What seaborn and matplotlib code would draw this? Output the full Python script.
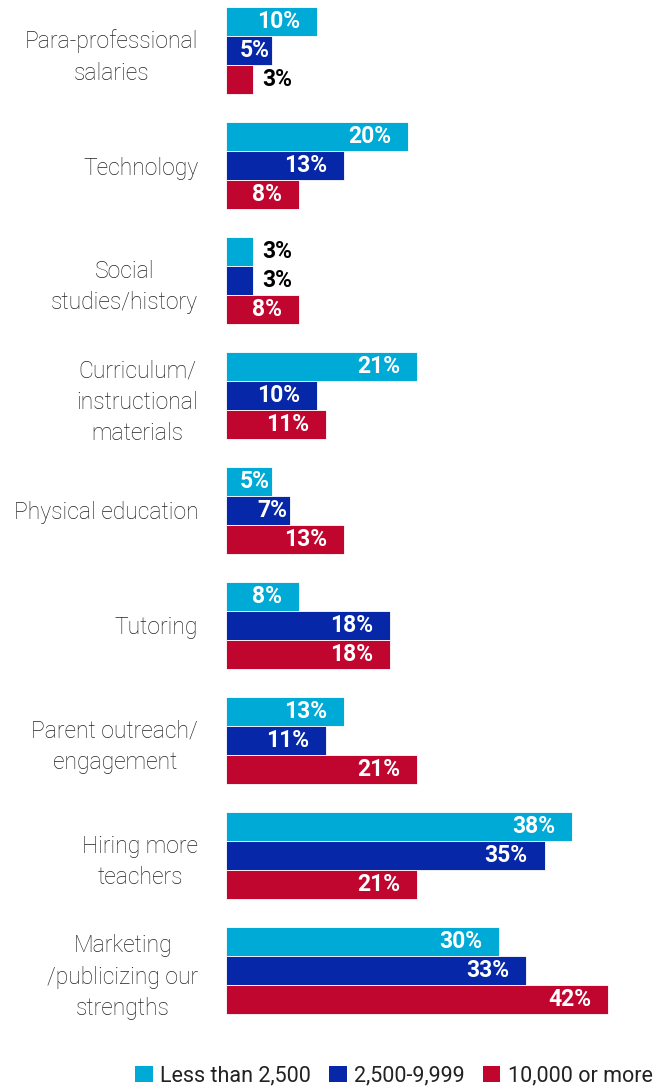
import numpy as np
import pandas as pd
import matplotlib
matplotlib.use("Agg")
import matplotlib.pyplot as plt
from matplotlib.patches import Patch
import seaborn as sns

categories = [
    "Para-professional\nsalaries",
    "Technology",
    "Social\nstudies/history",
    "Curriculum/\ninstructional\nmaterials",
    "Physical education",
    "Tutoring",
    "Parent outreach/\nengagement",
    "Hiring more\nteachers",
    "Marketing\n/publicizing our\nstrengths",
]
series = ["Less than 2,500", "2,500-9,999", "10,000 or more"]
small = [10, 20, 3, 21, 5, 8, 13, 38, 30]
medium = [5, 13, 3, 10, 7, 18, 11, 35, 33]
large = [3, 8, 8, 11, 13, 18, 21, 21, 42]
colors = ["#00aad6", "#0627a8", "#c0062f"]

df = pd.DataFrame({
    "category": categories * 3,
    "group": [series[0]] * 9 + [series[1]] * 9 + [series[2]] * 9,
    "value": small + medium + large,
})

sns.set_theme(style="white")
plt.rcParams["font.family"] = ["Roboto", "DejaVu Sans"]

W, H = 669, 1090
fig = plt.figure(figsize=(W / 100, H / 100), dpi=100)
ax_left, ax_right, ax_top, ax_bottom = 226, 663, 0, 1030
ax = fig.add_axes([ax_left / W, 1 - ax_bottom / H,
                   (ax_right - ax_left) / W, (ax_bottom - ax_top) / H])

sns.barplot(data=df, y="category", x="value", hue="group", orient="h",
            palette=colors, saturation=1, width=0.756, ax=ax, legend=False,
            edgecolor="white", linewidth=0.6)

px_per_unit = (ax_right - ax_left) / 48
ax.set_xlim(0, 48)
top = -50.5 / 115
bottom = (ax_bottom - 50.5) / 115
ax.set_ylim(bottom, top)

# value labels: inside the bar end, outside for the tiny ones
for container in ax.containers:
    for bar in container:
        val = bar.get_width()
        yc = bar.get_y() + bar.get_height() / 2
        label = f"{val:.0f}%"
        if val <= 3:
            ax.text(val + 9 / px_per_unit, yc, label, ha="left", va="center",
                    color="black", fontsize=16.5, fontweight="bold")
        else:
            pad = 17 if val >= 8 else 2
            ax.text(val - pad / px_per_unit, yc, label, ha="right", va="center",
                    color="white", fontsize=16.5, fontweight="bold")

ax.set_xlabel("")
ax.set_ylabel("")
ax.set_xticks([])
ax.tick_params(axis="y", length=0, pad=20, labelsize=16.5)
for lbl in ax.get_yticklabels():
    lbl.set_multialignment("center")
    lbl.set_linespacing(1.45)
    lbl.set_fontweight("light")
    lbl.set_color("#222222")
sns.despine(ax=ax, left=True, bottom=True)

handles = [Patch(facecolor=c, edgecolor="none", label=s) for c, s in zip(colors, series)]
fig.legend(handles=handles, loc="center", bbox_to_anchor=(394 / W, 1 - 1076 / H),
           ncol=3, frameon=False, fontsize=15.5, handlelength=0.8, handleheight=0.8,
           handletextpad=0.35, columnspacing=0.85, labelcolor="#222222")

fig.savefig("out.png", dpi=100)
